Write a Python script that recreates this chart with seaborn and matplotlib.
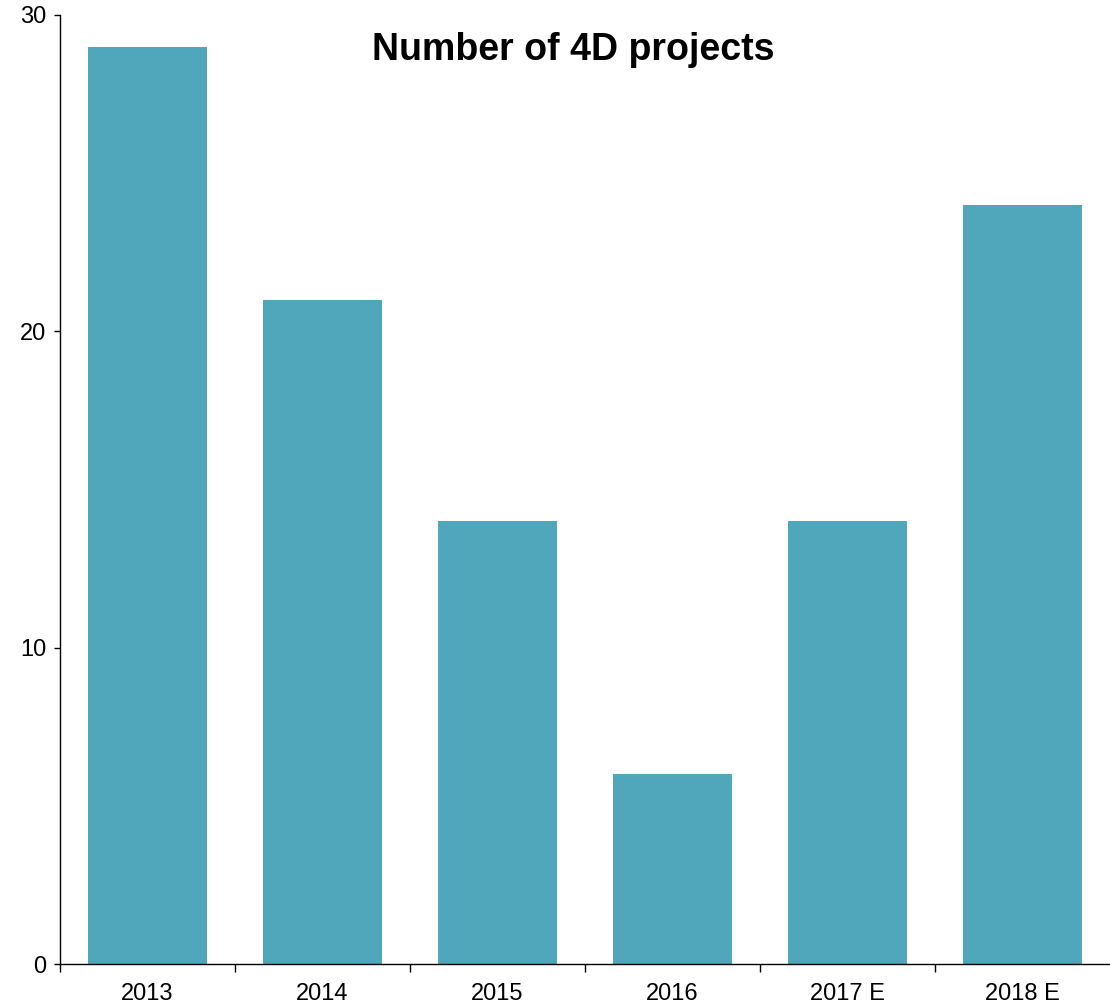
import matplotlib
matplotlib.use("Agg")
import matplotlib.pyplot as plt
import seaborn as sns
import numpy as np

years = ["2013", "2014", "2015", "2016", "2017 E", "2018 E"]
projects = [29, 21, 14, 6, 14, 24]
y_ticks = [0, 10, 20, 30]

sns.set_style("white")
plt.rcParams["font.family"] = ["Liberation Sans", "DejaVu Sans"]
plt.rcParams["text.color"] = "black"
plt.rcParams["xtick.color"] = "black"
plt.rcParams["ytick.color"] = "black"

fig = plt.figure(figsize=(11.1, 10.05), dpi=100)
ax = fig.add_axes([60 / 1110, 41 / 1005, 1050 / 1110, 949 / 1005])

sns.barplot(x=years, y=projects, color="#50A6BA", saturation=1, width=0.68,
            linewidth=0, ax=ax)

ax.set_xlim(-0.5, len(years) - 0.5)
ax.set_ylim(0, 30)
ax.set_yticks(y_ticks)
ax.tick_params(axis="y", direction="out", length=4, width=1, pad=6,
               labelsize=17, left=True, colors="black")

# category labels centred under the bars, tick marks between categories
ax.set_xticks(np.arange(len(years)))
ax.set_xticklabels(years)
ax.tick_params(axis="x", which="major", length=0, pad=14, labelsize=17,
               labelcolor="black")
ax.set_xticks(np.arange(len(years)) - 0.5, minor=True)
ax.tick_params(axis="x", which="minor", direction="out", length=6, width=1,
               bottom=True, color="black")

for side in ["top", "right"]:
    ax.spines[side].set_visible(False)
for side in ["left", "bottom"]:
    ax.spines[side].set_color("black")
    ax.spines[side].set_linewidth(1)

ax.set_xlabel("")
ax.set_ylabel("")
ax.text(0.489, 0.963, "Number of 4D projects", transform=ax.transAxes,
        ha="center", va="center", fontsize=27, fontweight="bold", color="black")

fig.savefig("out.png", dpi=100)
